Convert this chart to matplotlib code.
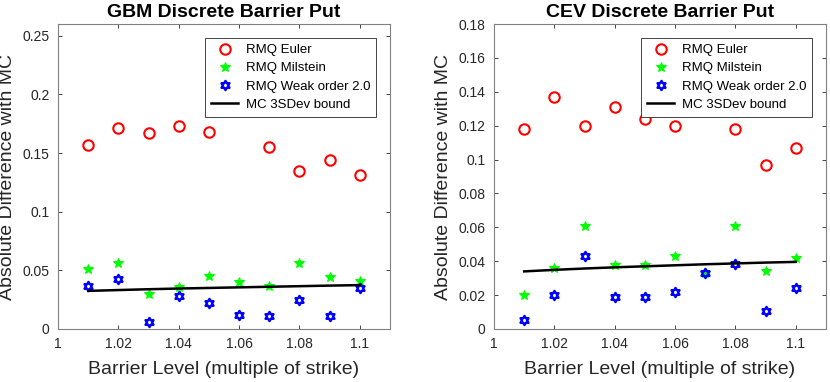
import matplotlib
matplotlib.use("Agg")
import matplotlib.pyplot as plt
import numpy as np
from matplotlib.path import Path
from matplotlib.ticker import FuncFormatter

plt.rcParams["font.family"] = ["Liberation Sans", "DejaVu Sans"]

barrier = [1.01, 1.02, 1.03, 1.04, 1.05, 1.06, 1.07, 1.08, 1.09, 1.10]

# GBM panel
gbm_euler = [0.157, 0.171, 0.167, 0.173, 0.168, 0.200, 0.155, 0.135, 0.144, 0.131]
gbm_milstein = [0.051, 0.056, 0.030, 0.036, 0.045, 0.040, 0.037, 0.056, 0.044, 0.041]
gbm_weak2 = [0.037, 0.043, 0.006, 0.028, 0.022, 0.012, 0.011, 0.025, 0.011, 0.035]
gbm_bound = [0.0325, 0.0332, 0.0339, 0.0345, 0.0350, 0.0355, 0.0360, 0.0365, 0.0370, 0.0374]

# CEV panel
cev_euler = [0.118, 0.137, 0.120, 0.131, 0.124, 0.120, 0.135, 0.118, 0.097, 0.107]
cev_milstein = [0.020, 0.036, 0.061, 0.038, 0.038, 0.043, 0.033, 0.061, 0.034, 0.042]
cev_weak2 = [0.0055, 0.020, 0.043, 0.019, 0.0186, 0.022, 0.033, 0.0386, 0.0106, 0.024]
cev_bound = [0.0340, 0.0349, 0.0357, 0.0364, 0.0370, 0.0376, 0.0382, 0.0387, 0.0392, 0.0396]

labels = ["RMQ Euler", "RMQ Milstein", "RMQ Weak order 2.0", "MC 3SDev bound"]


def hexagram():
    ang = np.deg2rad(90 + 30 * np.arange(12))
    r = np.where(np.arange(12) % 2 == 0, 1.0, 1 / np.sqrt(3))
    verts = np.column_stack([r * np.cos(ang), r * np.sin(ang)])
    verts = np.vstack([verts, verts[:1]])
    codes = [Path.MOVETO] + [Path.LINETO] * 11 + [Path.CLOSEPOLY]
    return Path(verts, codes)


HEX = hexagram()
AXC = "#262626"


def panel(ax, euler, milstein, weak2, bound, title, ymax, yticks):
    ax.plot(barrier, euler, "o", ls="none", mfc="none", mec="red", mew=1.5, ms=7.5, label=labels[0])
    ax.plot(barrier, milstein, "*", ls="none", mfc="#00ff00", mec="#00ff00", mew=0.8, ms=7.5, label=labels[1])
    ax.plot(barrier, weak2, ls="none", marker=HEX, mfc="none", mec="blue", mew=1.8, ms=6.5, label=labels[2])
    ax.plot(barrier, bound, "-", color="black", lw=1.8, label=labels[3])
    ax.set_xlim(1, 1.11)
    ax.set_ylim(0, ymax)
    ax.set_xticks([1, 1.02, 1.04, 1.06, 1.08, 1.1])
    ax.set_yticks(yticks)
    fmt = FuncFormatter(lambda v, p: "%g" % round(v, 4))
    ax.xaxis.set_major_formatter(fmt)
    ax.yaxis.set_major_formatter(fmt)
    ax.tick_params(direction="in", top=True, right=True, length=3, width=0.6,
                   labelsize=10, colors=AXC, pad=6)
    for s in ax.spines.values():
        s.set_color("#808080")
        s.set_linewidth(0.8)
    ax.set_title(title, fontsize=14, fontweight="bold", pad=5)
    ax.set_xlabel("Barrier Level (multiple of strike)", fontsize=14, color=AXC, labelpad=7)
    ax.set_ylabel("Absolute Difference with MC", fontsize=14, color=AXC, labelpad=5)
    leg = ax.legend(loc="upper right", fontsize=9.5, frameon=True, fancybox=False,
                    framealpha=1, edgecolor="#262626", borderpad=0.45,
                    handlelength=2.0, handletextpad=0.6, labelspacing=0.45,
                    borderaxespad=0, bbox_to_anchor=(0.958, 0.954))
    leg.get_frame().set_linewidth(0.6)
    leg.set_zorder(10)


fig = plt.figure(figsize=(8.3, 3.82), dpi=100)
ax1 = fig.add_axes([58 / 830, 1 - 329 / 382, 332 / 830, 305 / 382])
ax2 = fig.add_axes([494 / 830, 1 - 329 / 382, 332 / 830, 305 / 382])

panel(ax1, gbm_euler, gbm_milstein, gbm_weak2, gbm_bound, "GBM Discrete Barrier Put",
      0.26, [0, 0.05, 0.1, 0.15, 0.2, 0.25])
panel(ax2, cev_euler, cev_milstein, cev_weak2, cev_bound, "CEV Discrete Barrier Put",
      0.18, [0, 0.02, 0.04, 0.06, 0.08, 0.1, 0.12, 0.14, 0.16, 0.18])

fig.savefig("out.png", dpi=100)
